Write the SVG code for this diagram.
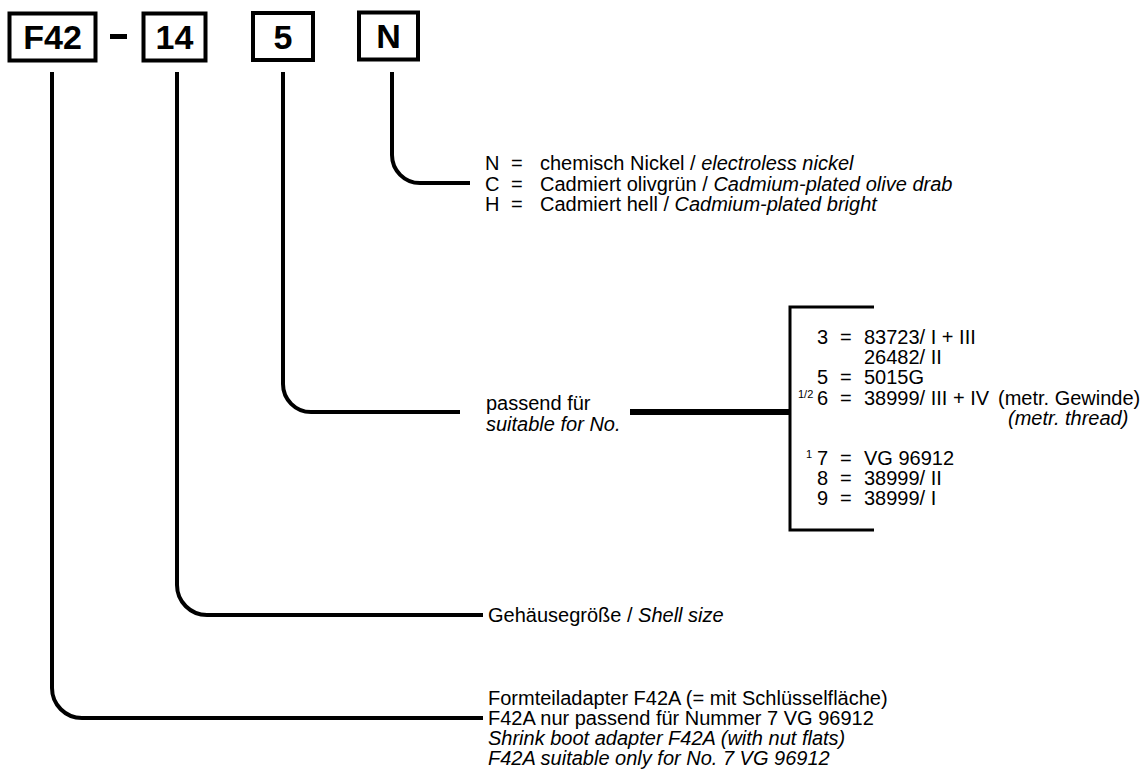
<svg xmlns="http://www.w3.org/2000/svg" width="1148" height="772" viewBox="0 0 1148 772">
<style>
.box{fill:#fff;stroke:#000;stroke-width:4}
.code{font-family:"Liberation Sans",Arial,Helvetica,sans-serif;font-weight:bold;font-size:34px;text-anchor:middle;fill:#000}
.conn{fill:none;stroke:#000;stroke-width:4}
.thick{fill:none;stroke:#000;stroke-width:6}
.brk{fill:none;stroke:#000;stroke-width:3}
.t{font-family:"Liberation Sans",Arial,Helvetica,sans-serif;font-size:20px;fill:#000}
.i{font-style:italic}
.sup{font-family:"Liberation Sans",Arial,Helvetica,sans-serif;font-size:11px;fill:#000}
</style>
<rect width="1148" height="772" fill="#fff"/>

<g id="node-f42">
<rect class="box" x="9.5" y="13.5" width="86" height="47"/>
<text class="code" x="52.5" y="49">F42</text>
</g>
<g id="node-dash">
<rect x="110" y="34" width="17" height="5" fill="#000"/>
</g>
<g id="node-14">
<rect class="box" x="143.5" y="13.5" width="62" height="47"/>
<text class="code" x="174.5" y="49">14</text>
</g>
<g id="node-5">
<rect class="box" x="253" y="13" width="60" height="47"/>
<text class="code" x="283" y="48.5">5</text>
</g>
<g id="node-n">
<rect class="box" x="359" y="12.5" width="59" height="47"/>
<text class="code" x="388.5" y="48">N</text>
</g>

<g id="connectors">
<path class="conn" d="M392,72 V155 A28,28 0 0 0 420,183 H470"/>
<path class="conn" d="M283,72 V384 A28,28 0 0 0 311,412 H460"/>
<path class="conn" d="M177,72 V585 A30,30 0 0 0 207,615 H483"/>
<path class="conn" d="M52,72 V688 A30,30 0 0 0 82,718 H483"/>
<path class="thick" d="M630,412 H790"/>
<path class="brk" d="M874,307 H790 V530 H874"/>
</g>

<g id="desc-n">
<text class="t" x="485" y="170">N</text>
<text class="t" x="511" y="170">=</text>
<text class="t" x="540" y="170">chemisch Nickel / <tspan class="i">electroless nickel</tspan></text>
<text class="t" x="485" y="190.5">C</text>
<text class="t" x="511" y="190.5">=</text>
<text class="t" x="540" y="190.5">Cadmiert olivgrün / <tspan class="i">Cadmium-plated olive drab</tspan></text>
<text class="t" x="485" y="211">H</text>
<text class="t" x="511" y="211">=</text>
<text class="t" x="540" y="211">Cadmiert hell / <tspan class="i">Cadmium-plated bright</tspan></text>
</g>

<g id="desc-5">
<text class="t" x="486" y="410">passend für</text>
<text class="t i" x="486" y="431">suitable for No.</text>
</g>

<g id="list-5">
<text class="t" x="817" y="344">3</text>
<text class="t" x="840" y="344">=</text>
<text class="t" x="864" y="344">83723/ I + III</text>
<text class="t" x="864" y="364">26482/ II</text>
<text class="t" x="817" y="384">5</text>
<text class="t" x="840" y="384">=</text>
<text class="t" x="864" y="384">5015G</text>
<text class="sup" x="798" y="398">1/2</text>
<text class="t" x="817" y="405">6</text>
<text class="t" x="840" y="405">=</text>
<text class="t" x="864" y="405">38999/ III + IV</text>
<text class="t" x="998" y="405">(metr. Gewinde)</text>
<text class="t i" x="1008" y="425">(metr. thread)</text>
<text class="sup" x="806" y="458">1</text>
<text class="t" x="817" y="465">7</text>
<text class="t" x="840" y="465">=</text>
<text class="t" x="864" y="465">VG 96912</text>
<text class="t" x="817" y="485">8</text>
<text class="t" x="840" y="485">=</text>
<text class="t" x="864" y="485">38999/ II</text>
<text class="t" x="817" y="505">9</text>
<text class="t" x="840" y="505">=</text>
<text class="t" x="864" y="505">38999/ I</text>
</g>

<g id="desc-14">
<text class="t" x="488" y="622">Gehäusegröße / <tspan class="i">Shell size</tspan></text>
</g>

<g id="desc-f42">
<text class="t" x="488" y="705">Formteiladapter F42A (= mit Schlüsselfläche)</text>
<text class="t" x="488" y="725">F42A nur passend für Nummer 7 VG 96912</text>
<text class="t i" x="488" y="745">Shrink boot adapter F42A (with nut flats)</text>
<text class="t i" x="488" y="765">F42A suitable only for No. 7 VG 96912</text>
</g>
</svg>
